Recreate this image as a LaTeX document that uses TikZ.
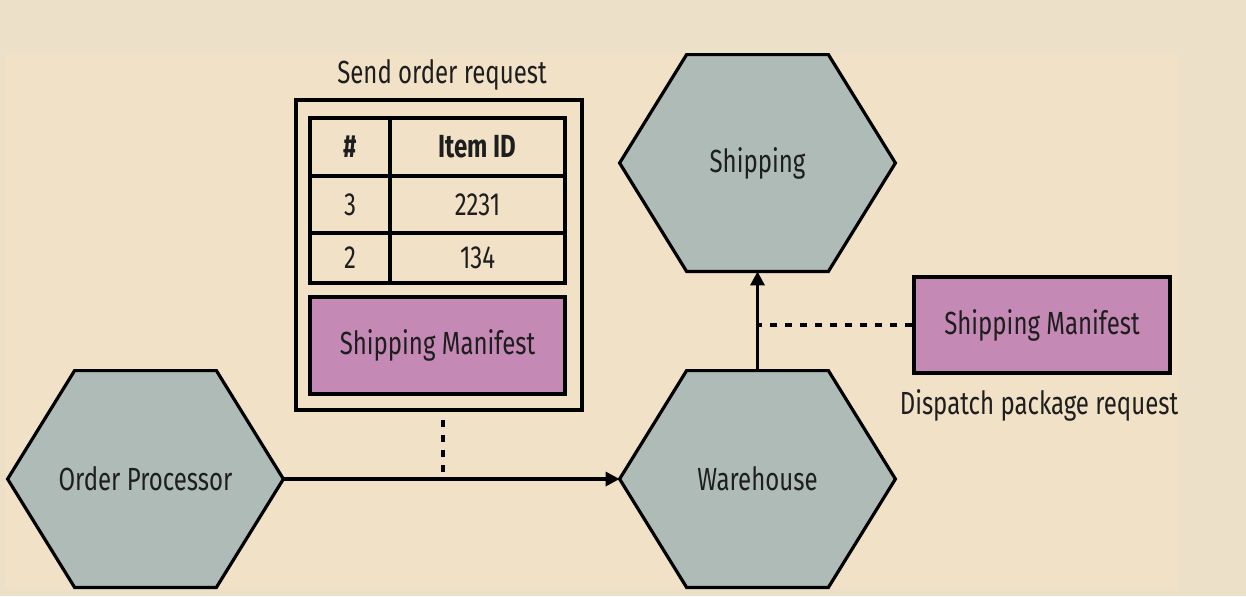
\documentclass[tikz,border=0pt]{standalone}
\usepackage{fontspec}
\setmainfont{Fira Sans}[FakeStretch=0.75]
\usetikzlibrary{arrows.meta,backgrounds}
\definecolor{pagebg}{HTML}{EDE0C9}
\definecolor{panelbg}{HTML}{F1E1C6}
\definecolor{hexgrey}{HTML}{AEBBB6}
\definecolor{manifest}{HTML}{C489B5}
\definecolor{ink}{HTML}{1E1E1E}

\begin{document}
\begin{tikzpicture}[x=0.5pt, y=-0.5pt, align=center,
    font=\fontsize{16}{19}\selectfont, text=ink,
    service/.style={minimum width=137.5pt, minimum height=108pt, inner sep=0},
    cell/.style={draw, line width=1.6pt, inner sep=0},
    manifestbox/.style={draw, line width=1.6pt, fill=manifest, minimum width=128pt, minimum height=48pt},
    flow/.style={line width=1.6pt, -{Triangle[length=7pt, width=7pt]}},
    link/.style={line width=1.6pt, dash pattern=on 3.5pt off 4pt}]

      \useasboundingbox (0,0) rectangle (1246,596);

      \node[service] (op) at (145.5,479) {Order Processor};
      \node[service] (wh) at (757.5,479) {Warehouse};
      \node[service] (ship) at (757.5,163) {Shipping};

      \node (title) at (442,75) {Send order request};
      \node[draw, line width=1.6pt, minimum width=143pt, minimum height=155pt] (req) at (439,255) {};

      \node[cell, minimum width=40pt, minimum height=29pt, font=\fontsize{16}{19}\selectfont\bfseries] (hnum) at (350,147) {\#};
      \node[cell, minimum width=87.5pt, minimum height=29pt, font=\fontsize{16}{19}\selectfont\bfseries] (hid) at (477.5,147) {Item ID};
      \node[cell, minimum width=40pt, minimum height=28.5pt] (num1) at (350,204.5) {3};
      \node[cell, minimum width=87.5pt, minimum height=28.5pt] (id1) at (477.5,204.5) {2231};
      \node[cell, minimum width=40pt, minimum height=25pt] (num2) at (350,258) {2};
      \node[cell, minimum width=87.5pt, minimum height=25pt] (id2) at (477.5,258) {134};

      \node[manifestbox, minimum width=127.5pt, minimum height=48.5pt] (man1) at (437.5,345.5) {Shipping Manifest};
      \node[manifestbox] (man2) at (1042,325) {Shipping Manifest};
      \node (dispatch) at (1039,405) {Dispatch package request};

      \coordinate (tap) at (443,479);

      \draw[flow] (op.east) -- (wh.west);
      \draw[flow] (wh.north) -- (ship.south);
      \draw[link, dash phase=3.5pt] (tap |- req.south) -- (tap);
      \draw[link] (man2.west) -- (man2.west -| wh.north);

      \begin{scope}[on background layer]
        \fill[pagebg] (0,0) rectangle (1246,596);
        \fill[panelbg] (5,54) rectangle (1178,589);
        \foreach \s in {op,wh,ship}
          \filldraw[fill=hexgrey, line width=1.6pt]
            ([xshift=33.5pt]\s.north west) -- ([xshift=-33.5pt]\s.north east) -- (\s.east)
            -- ([xshift=-33.5pt]\s.south east) -- ([xshift=33.5pt]\s.south west) -- (\s.west) -- cycle;
      \end{scope}
    \end{tikzpicture}
\end{document}
